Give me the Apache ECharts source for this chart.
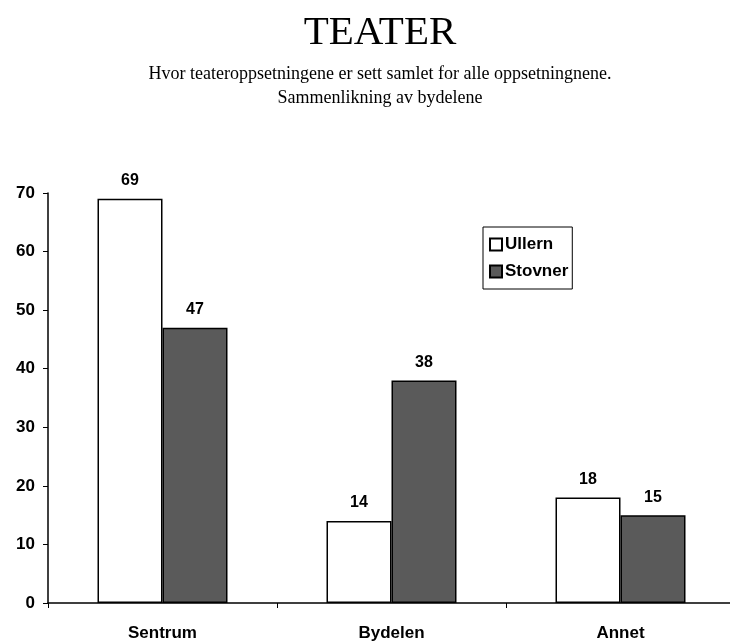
<!DOCTYPE html>
<html lang="en">
<head>
  <meta charset="UTF-8">
  <title>TEATER</title>
  <style>
    body { margin: 0; background: #fff; }
    #chart { width: 730px; height: 642px; }
  </style>
  <script src="https://cdn.jsdelivr.net/npm/echarts@6/dist/echarts.min.js"></script>
</head>
<body>
<div id="chart"></div>
<script>
  // data
  var categories = ['Sentrum', 'Bydelen', 'Annet'];
  var ullern = [69, 14, 18];
  var stovner = [47, 38, 15];

  var myChart = echarts.init(document.getElementById('chart'));

  var labelStyle = {
    show: true,
    position: 'top',
    distance: 10,
    fontFamily: 'Arial, Liberation Sans, sans-serif',
    fontWeight: 'bold',
    fontSize: 16,
    color: '#000'
  };

  var option = {
    animation: false,
    backgroundColor: '#fff',
    title: {
      text: 'TEATER',
      subtext: 'Hvor teateroppsetningene er sett samlet for alle oppsetningnene.\nSammenlikning av bydelene',
      left: 375,
      textAlign: 'center',
      top: 8,
      itemGap: 8,
      textStyle: {
        fontFamily: 'Liberation Serif, Times New Roman, serif',
        fontWeight: 'normal',
        fontSize: 41,
        color: '#000'
      },
      subtextStyle: {
        fontFamily: 'Liberation Serif, Times New Roman, serif',
        fontSize: 18,
        lineHeight: 24,
        color: '#000'
      }
    },
    legend: {
      orient: 'vertical',
      left: 483,
      top: 227,
      padding: [9, 4, 9, 6],
      itemGap: 10,
      itemWidth: 12,
      itemHeight: 12,
      icon: 'rect',
      borderColor: '#000',
      borderWidth: 1,
      textStyle: {
        fontFamily: 'Arial, Liberation Sans, sans-serif',
        fontWeight: 'bold',
        fontSize: 17,
        color: '#000',
        padding: [0, 0, 0, -2]
      },
      data: ['Ullern', 'Stovner']
    },
    grid: {
      left: 48,
      width: 687,
      top: 193,
      bottom: 39,
      outerBoundsMode: 'none'
    },
    xAxis: {
      type: 'category',
      data: categories,
      axisLine: { lineStyle: { color: '#000', width: 1.5 } },
      axisTick: { show: true, length: 5, lineStyle: { color: '#000' } },
      axisLabel: {
        margin: 22,
        fontFamily: 'Arial, Liberation Sans, sans-serif',
        fontWeight: 'bold',
        fontSize: 17,
        color: '#000'
      }
    },
    yAxis: {
      type: 'value',
      min: 0,
      max: 70,
      interval: 10,
      splitLine: { show: false },
      axisLine: { show: true, lineStyle: { color: '#000', width: 1.5 } },
      axisTick: { show: true, length: 5, lineStyle: { color: '#000' } },
      axisLabel: {
        margin: 13,
        fontFamily: 'Arial, Liberation Sans, sans-serif',
        fontWeight: 'bold',
        fontSize: 17,
        color: '#000'
      }
    },
    series: [
      {
        name: 'Ullern',
        type: 'bar',
        data: ullern,
        barWidth: 65,
        barGap: '0%',
        itemStyle: { color: '#fff', borderColor: '#000', borderWidth: 1.5 },
        label: labelStyle
      },
      {
        name: 'Stovner',
        type: 'bar',
        data: stovner,
        barWidth: 65,
        itemStyle: { color: '#5a5a5a', borderColor: '#000', borderWidth: 1.5 },
        label: labelStyle
      }
    ]
  };

  myChart.setOption(option);
</script>
</body>
</html>
